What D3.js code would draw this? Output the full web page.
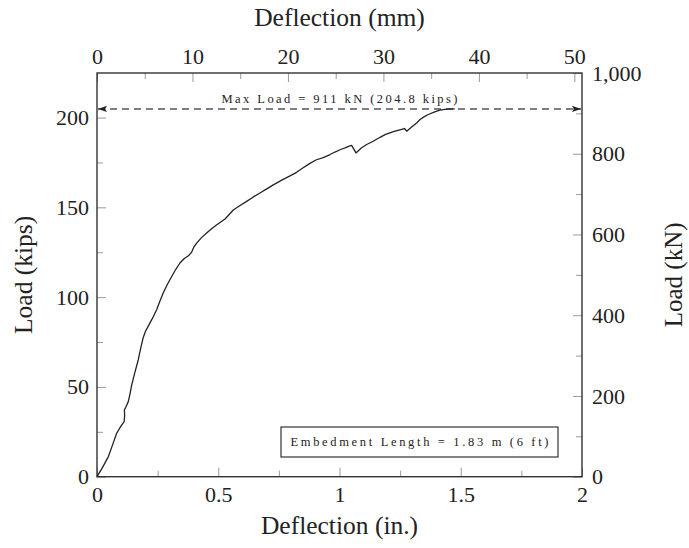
<!DOCTYPE html>
<html>
<head>
<meta charset="utf-8">
<script src="https://cdn.jsdelivr.net/npm/d3@7"></script>
<style>
  html, body { margin: 0; padding: 0; background: #fff; }
  svg { display: block; }
  text { font-family: "Liberation Serif", "Times New Roman", serif; fill: #222; }
</style>
</head>
<body>
<svg id="chart" width="689" height="548"></svg>
<script>
// ---- data: deflection (in.) vs load (kips) ----
const deflectionIn = [0, 0.02, 0.047, 0.065, 0.081, 0.098, 0.112, 0.114, 0.113, 0.118, 0.129, 0.136, 0.143, 0.156, 0.170, 0.181, 0.191, 0.200, 0.212, 0.228, 0.246, 0.260, 0.273, 0.290, 0.308, 0.325, 0.342, 0.360, 0.377, 0.390, 0.400, 0.411, 0.430, 0.452, 0.474, 0.494, 0.528, 0.562, 0.590, 0.617, 0.645, 0.672, 0.700, 0.727, 0.760, 0.796, 0.823, 0.850, 0.878, 0.905, 0.933, 0.961, 0.981, 1.005, 1.023, 1.043, 1.050, 1.068, 1.090, 1.112, 1.139, 1.167, 1.190, 1.208, 1.222, 1.245, 1.268, 1.277, 1.300, 1.318, 1.332, 1.350, 1.366, 1.390, 1.414, 1.435, 1.456, 1.475];
const loadKips = [0, 4.5, 11.2, 18, 24.2, 28, 30.7, 34, 37.2, 38.5, 41.8, 46, 51, 58, 65, 72, 77.7, 81, 84, 88, 93, 98, 102.3, 107, 111.5, 115.5, 119, 121.5, 123, 125, 128, 130.1, 133, 135.7, 138.2, 140.3, 143.5, 148.5, 151, 153.3, 155.8, 158, 160.3, 162.5, 165, 167.5, 169.5, 172, 174.5, 176.5, 177.7, 179.4, 180.8, 182.2, 183.1, 184.2, 184.5, 180.3, 183, 185, 186.8, 189, 190.6, 191.5, 192.1, 193, 193.9, 192.4, 195, 197, 198.9, 200.5, 201.7, 203, 204.1, 204.6, 204.8, 204.8];

const maxLoadKips = 204.8;
const maxLoadLabel = "Max Load = 911 kN (204.8 kips)";
const noteLabel = "Embedment Length = 1.83 m (6 ft)";

// ticks
const xTicksIn = [0, 0.5, 1, 1.5, 2];
const xTickLabelsIn = ["0", "0.5", "1", "1.5", "2"];
const xMinorIn = [0.25, 0.75, 1.25, 1.75];
const xTicksMm = [0, 10, 20, 30, 40, 50];
const xMinorMm = [5, 15, 25, 35, 45];
const yTicksKips = [0, 50, 100, 150, 200];
const yMinorKips = [25, 75, 125, 175];
const yTicksKN = [0, 200, 400, 600, 800, 1000];
const yTickLabelsKN = ["0", "200", "400", "600", "800", "1,000"];
const yMinorKN = [100, 300, 500, 700, 900];

// ---- layout ----
const L = 97, R = 582, T = 73, B = 476.7;
const svg = d3.select("#chart");

const x = d3.scaleLinear().domain([0, 2]).range([L, R]);
const xmm = d3.scaleLinear().domain([0, 2 * 25.4]).range([L, R]);
const ykN = d3.scaleLinear().domain([0, 1000]).range([B, T]);
const y = d3.scaleLinear().domain([0, 1000 / 4.44822]).range([B, T]);

const tickColor = "#9a9a9a";
function styleAxis(g, fs) {
  g.select(".domain").remove();
  g.selectAll(".tick line").attr("stroke", tickColor).attr("stroke-width", 1);
  g.selectAll(".tick text").style("font-size", fs + "px").attr("fill", "#222")
    .style("font-family", '"Liberation Serif", serif');
}
const FS = 22;

// minor ticks
svg.append("g").attr("transform", `translate(0,${B})`)
  .call(d3.axisBottom(x).tickValues(xMinorIn).tickSize(-6).tickFormat(""))
  .call(g => styleAxis(g, FS));
svg.append("g").attr("transform", `translate(0,${T})`)
  .call(d3.axisTop(xmm).tickValues(xMinorMm).tickSize(-6).tickFormat(""))
  .call(g => styleAxis(g, FS));
svg.append("g").attr("transform", `translate(${L},0)`)
  .call(d3.axisLeft(y).tickValues(yMinorKips).tickSize(-6).tickFormat(""))
  .call(g => styleAxis(g, FS));
svg.append("g").attr("transform", `translate(${R},0)`)
  .call(d3.axisRight(ykN).tickValues(yMinorKN).tickSize(-6).tickFormat(""))
  .call(g => styleAxis(g, FS));

// major ticks + labels
svg.append("g").attr("transform", `translate(0,${B})`)
  .call(d3.axisBottom(x).tickValues(xTicksIn).tickSize(-9).tickPadding(10)
    .tickFormat((d, i) => xTickLabelsIn[i]))
  .call(g => styleAxis(g, FS));
svg.append("g").attr("transform", `translate(0,${T})`)
  .call(d3.axisTop(xmm).tickValues(xTicksMm).tickSize(-9).tickPadding(9)
    .tickFormat(d => String(d)))
  .call(g => styleAxis(g, FS));
svg.append("g").attr("transform", `translate(${L},0)`)
  .call(d3.axisLeft(y).tickValues(yTicksKips).tickSize(-9).tickPadding(8)
    .tickFormat(d => String(d)))
  .call(g => styleAxis(g, FS));
svg.append("g").attr("transform", `translate(${R},0)`)
  .call(d3.axisRight(ykN).tickValues(yTicksKN).tickSize(-9).tickPadding(10)
    .tickFormat((d, i) => yTickLabelsKN[i]))
  .call(g => styleAxis(g, FS));

// frame
svg.append("rect").attr("x", L).attr("y", T).attr("width", R - L).attr("height", B - T)
  .attr("fill", "none").attr("stroke", "#333").attr("stroke-width", 1.4);

// arrow markers
const defs = svg.append("defs");
defs.append("marker").attr("id", "arrowEnd").attr("viewBox", "0 0 10 10")
  .attr("refX", 10).attr("refY", 5).attr("markerWidth", 9).attr("markerHeight", 9)
  .attr("markerUnits", "userSpaceOnUse").attr("orient", "auto")
  .append("path").attr("d", "M0,1.5 L10,5 L0,8.5 L2,5 Z").attr("fill", "#222");
defs.append("marker").attr("id", "arrowStart").attr("viewBox", "0 0 10 10")
  .attr("refX", 10).attr("refY", 5).attr("markerWidth", 9).attr("markerHeight", 9)
  .attr("markerUnits", "userSpaceOnUse").attr("orient", "auto-start-reverse")
  .append("path").attr("d", "M0,1.5 L10,5 L0,8.5 L2,5 Z").attr("fill", "#222");

// max load dashed line
svg.append("line")
  .attr("x1", x(0) + 1).attr("x2", x(2) - 1)
  .attr("y1", y(maxLoadKips)).attr("y2", y(maxLoadKips))
  .attr("stroke", "#555").attr("stroke-width", 1.4)
  .attr("stroke-dasharray", "7,5")
  .attr("marker-start", "url(#arrowStart)").attr("marker-end", "url(#arrowEnd)");

svg.append("text")
  .attr("x", (L + R) / 2).attr("y", y(maxLoadKips) - 6)
  .attr("text-anchor", "middle")
  .attr("textLength", 236).attr("lengthAdjust", "spacing")
  .style("font-size", "12.5px").attr("fill", "#333")
  .text(maxLoadLabel);

// curve
const pts = deflectionIn.map((d, i) => [d, loadKips[i]]);
svg.append("path").datum(pts)
  .attr("fill", "none").attr("stroke", "#222").attr("stroke-width", 1.3)
  .attr("stroke-linejoin", "round")
  .attr("d", d3.line().x(d => x(d[0])).y(d => y(d[1])));

// note box
svg.append("rect").attr("x", 281).attr("y", 427).attr("width", 277).attr("height", 30)
  .attr("fill", "#fff").attr("stroke", "#333").attr("stroke-width", 1.2);
svg.append("text").attr("x", 419.5).attr("y", 445.5).attr("text-anchor", "middle")
  .attr("textLength", 258).attr("lengthAdjust", "spacing")
  .style("font-size", "12.5px").attr("fill", "#333")
  .text(noteLabel);

// axis titles
svg.append("text").attr("x", (L + R) / 2).attr("y", 26).attr("text-anchor", "middle")
  .style("font-size", "25.5px").text("Deflection (mm)");
svg.append("text").attr("x", (L + R) / 2).attr("y", 534).attr("text-anchor", "middle")
  .style("font-size", "25.5px").text("Deflection (in.)");
svg.append("text").attr("transform", `translate(32,${(T + B) / 2}) rotate(-90)`)
  .attr("text-anchor", "middle").style("font-size", "25.5px").text("Load (kips)");
svg.append("text").attr("transform", `translate(682,${(T + B) / 2}) rotate(-90)`)
  .attr("text-anchor", "middle").style("font-size", "25px").text("Load (kN)");
</script>
</body>
</html>
